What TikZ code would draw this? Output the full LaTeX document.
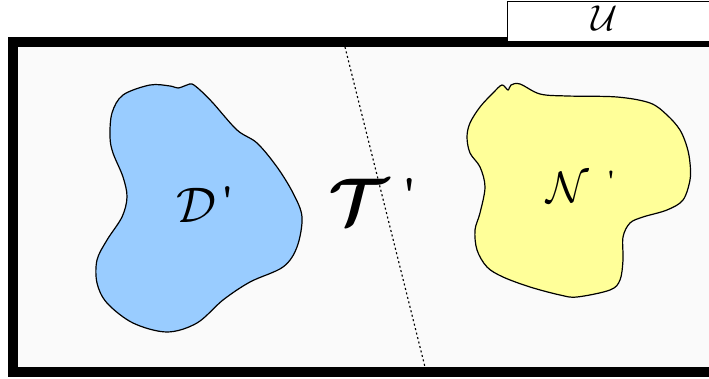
\documentclass[tikz,border=0pt]{standalone}
\begin{document}
\begin{tikzpicture}[x=1pt,y=-1pt,
  blob/.style={draw=black,line width=1.2pt,smooth cycle,tension=0.55},
  lbl/.style={anchor=base west,inner sep=0pt,outer sep=0pt},
  frameline/.style={line width=10pt},
  divider/.style={line width=1.2pt,dash pattern=on 2pt off 2.6pt}]
\useasboundingbox (0,0) rectangle (709,379);
\clip (0,0) rectangle (709,379);
\fill[white] (0,0) rectangle (709,379);
% frame
\filldraw[fill=black!2,draw=black,frameline] (12.5,42) rectangle (730,372);
% U box
\filldraw[fill=white,draw=black,line width=1pt] (507.5,1.5) rectangle (730,42);
\node[lbl] (U) at (591,31) {\scalebox{3.6}{$\mathcal{U}$}};
% divider
\coordinate (dtop) at (345,47);
\coordinate (dbot) at (425,367);
\draw[divider] (dtop) -- (dbot);
% blue blob
\draw[blob,fill={rgb,255:red,153;green,204;blue,255}] plot coordinates {
 (150,85) (170,86) (178,88) (187,85) (192,84) (200,90) (213,103) (237,130)
 (257,143) (277,167) (293,193) (302,217) (297,247) (283,267) (250,282)
 (223,300) (197,323) (167,332) (133,323) (107,303) (97,283) (97,260)
 (107,240) (122,217) (127,197) (123,177) (113,153) (110,137) (112,113) (123,95)};
% yellow blob
\draw[blob,fill={rgb,255:red,255;green,255;blue,153}] plot coordinates {
 (502,85) (508,90) (511,85) (520,84) (540,94) (567,96) (617,97) (650,103)
 (667,115) (680,130) (687,147) (690,163) (690,180) (683,200) (667,210)
 (643,217) (630,223) (623,237) (623,260) (620,280) (610,290) (577,297)
 (560,295) (530,287) (503,277) (487,267) (477,250) (475,230) (480,213)
 (485,187) (480,167) (470,153) (467,137) (470,123) (480,107) (493,93)};
% labels
\node[lbl] (D) at (176,223) {\scalebox{5}{$\mathcal{D}$}\hspace{6pt}\raisebox{8pt}{\fontsize{40}{40}\selectfont\bfseries\textquotesingle}};
\node[lbl] (T) at (328,225) {\scalebox{6.6}{\boldmath$\mathcal{T}$}\hspace{14pt}\raisebox{14pt}{\fontsize{46}{46}\selectfont\bfseries\textquotesingle}};
\node[lbl] (N) at (546,203) {\scalebox{4.4}{$\mathcal{N}$}\hspace{18pt}\raisebox{12pt}{\fontsize{28}{28}\selectfont\bfseries\textquotesingle}};
\end{tikzpicture}
\end{document}
